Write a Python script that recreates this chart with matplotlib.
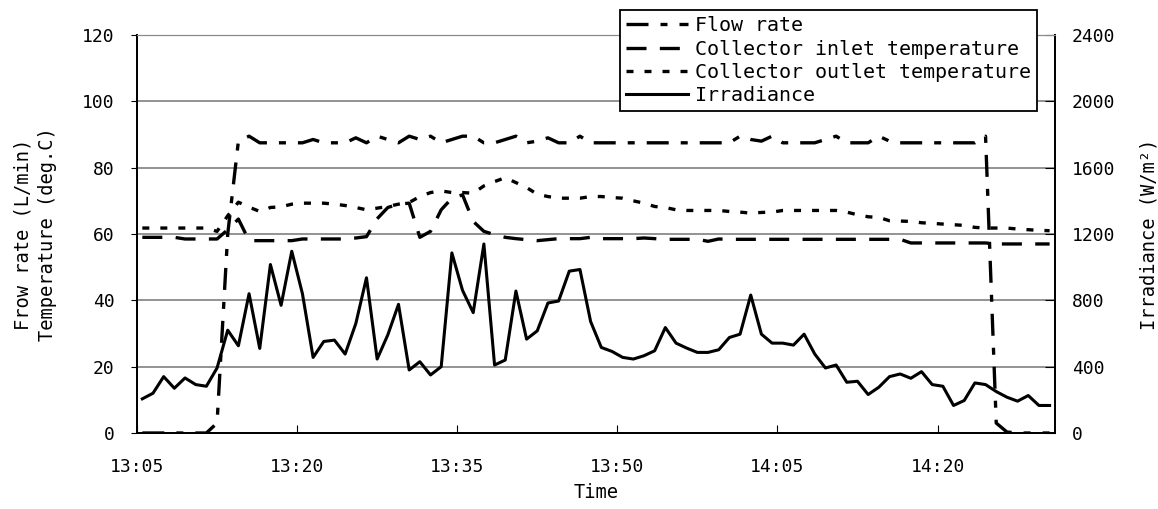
import numpy as np
import matplotlib
matplotlib.use('Agg')
import matplotlib.pyplot as plt

plt.rcParams['font.family'] = 'DejaVu Sans Mono'

# one sample per minute starting 13:05
minutes = np.arange(86) + 0.5
tick_pos = [0, 15, 30, 45, 60, 75]
tick_labels = ['13:05', '13:20', '13:35', '13:50', '14:05', '14:20']

flow_rate = [0, 0, 0, 0, 0, 0, 0, 3, 60, 88,
             89.5, 87.5, 87.5, 87.5, 87.5, 87.5, 88.5, 87.5, 87.5, 87.5,
             89, 87.5, 89.5, 88.5, 87.5, 89.5, 88.5, 89.5, 87.5, 88.5,
             89.5, 89.5, 87.5, 87.5, 88.5, 89.5, 87.5, 88, 89, 87.5,
             87.5, 89.5, 87.5, 87.5, 87.5, 87.5, 87.5, 87.5, 87.5, 87.5,
             87.5, 87.5, 87.5, 87.5, 87.5, 87.5, 89.5, 88.5, 88, 89.5,
             87.5, 87.5, 87.5, 87.5, 88.5, 89.5, 87.5, 87.5, 87.5, 89.5,
             88, 87.5, 87.5, 87.5, 87.5, 87.5, 87.5, 87.5, 87.5, 89.5,
             3, 0.3, 0, 0, 0, 0]

inlet_temp = [59, 59, 59, 59, 58.5, 58.5, 58.5, 58.5, 61.3, 64.5,
              58, 58, 58, 58, 58, 58.5, 58.5, 58.5, 58.5, 58.5,
              58.8, 59.2, 64.6, 68, 69, 69.3, 59, 60.8, 67.3, 70.8,
              71.8, 63.8, 60.8, 59.8, 59, 58.6, 58.3, 58, 58.3, 58.6,
              58.6, 58.6, 59, 58.6, 58.6, 58.6, 58.6, 58.8, 58.6, 58.4,
              58.4, 58.4, 58.4, 57.8, 58.5, 58.4, 58.4, 58.4, 58.4, 58.4,
              58.4, 58.4, 58.4, 58.4, 58.4, 58.4, 58.4, 58.4, 58.4, 58.4,
              58.4, 58.4, 57.3, 57.3, 57.3, 57.3, 57.3, 57.3, 57.3, 57.3,
              57, 57, 57, 57, 57, 57]

outlet_temp = [61.8, 61.8, 61.8, 61.8, 61.8, 61.8, 61.8, 60.8, 65.5, 69.6,
               68.1, 66.8, 68, 68.2, 69, 69.3, 69.3, 69.3, 69, 68.6,
               68, 67.3, 67.8, 68.3, 69, 69.5, 71.3, 72.5, 73, 72.5,
               72.5, 72.3, 74.5, 75.8, 77, 75.5, 74, 72, 71.3, 70.8,
               70.8, 70.8, 71.3, 71.3, 71, 70.8, 70, 69.3, 68.3, 68,
               67.3, 67.1, 67.1, 67.1, 67.1, 66.8, 66.6, 66.3, 66.5, 66.6,
               67.1, 67.1, 67.1, 67.1, 67.1, 67.1, 66.6, 65.8, 65.2, 65,
               64, 63.9, 63.8, 63.4, 63.2, 63, 62.8, 62.6, 62, 61.8,
               61.8, 61.8, 61.5, 61.3, 61.1, 61]

irradiance = [206, 240, 340, 270, 332, 292, 282, 392, 620, 526,
              840, 510, 1016, 770, 1096, 840, 456, 552, 560, 476,
              660, 936, 446, 592, 776, 380, 430, 350, 400, 1086,
              860, 726, 1140, 410, 440, 856, 566, 616, 784, 796,
              976, 986, 672, 516, 492, 456, 446, 466, 496, 636,
              542, 512, 486, 486, 502, 576, 596, 832, 596, 542,
              542, 530, 596, 476, 392, 410, 306, 312, 232, 276,
              340, 356, 330, 370, 292, 282, 166, 196, 302, 292,
              250, 216, 192, 226, 166, 166]

fig = plt.figure(figsize=(11.58, 5.09), dpi=100)
ax = fig.add_axes([0.1183, 0.1493, 0.7927, 0.7819])
ax2 = ax.twinx()

lf, = ax.plot(minutes, flow_rate, color='black', lw=2.4, dashes=(6.6, 3.6, 2.1, 3.6))
li, = ax.plot(minutes, inlet_temp, color='black', lw=2.4, dashes=(6, 4))
lo, = ax.plot(minutes, outlet_temp, color='black', lw=2.4, dashes=(2.1, 3.3))
lr, = ax2.plot(minutes, irradiance, color='black', lw=2.2)

ax.set_xlim(0, 86)
ax.set_ylim(0, 120)
ax2.set_ylim(0, 2400)
ax.set_yticks(range(0, 121, 20))
ax2.set_yticks(range(0, 2401, 400))
ax.set_xticks(tick_pos)
ax.set_xticklabels(tick_labels)

ax.yaxis.grid(True, color='#8a8a8a', lw=1.3)
ax.set_axisbelow(True)

ax.tick_params(axis='x', direction='in', length=6, pad=18, labelsize=13)
ax.tick_params(axis='y', direction='out', length=4, pad=12, labelsize=13)
ax2.tick_params(axis='y', direction='in', length=7, pad=12, labelsize=13)

for a in (ax, ax2):
    a.spines['top'].set_color('#8a8a8a')
    a.spines['left'].set_linewidth(1.3)
    a.spines['right'].set_linewidth(1.3)
    a.spines['bottom'].set_linewidth(1.3)

ax.set_xlabel('Time', fontsize=13.5)
ax.xaxis.set_label_coords(0.5, -0.125)
ax.set_ylabel('Frow rate (L/min)\nTemperature (deg.C)', fontsize=13.5, linespacing=1.4)
ax.yaxis.set_label_coords(-0.087, 0.5)
ax2.set_ylabel('Irradiance (W/m\u00b2)', fontsize=13.5)
ax2.yaxis.set_label_coords(1.092, 0.5)

leg = fig.legend([lf, li, lo, lr],
                 ['Flow rate', 'Collector inlet temperature',
                  'Collector outlet temperature', 'Irradiance'],
                 loc='upper right', bbox_to_anchor=(0.8955, 0.980),
                 fontsize=14.4, handlelength=3.1, handletextpad=0.35,
                 labelspacing=0.22, borderpad=0.3, borderaxespad=0,
                 fancybox=False, framealpha=1, edgecolor='black')
leg.get_frame().set_linewidth(1.3)

fig.savefig('out.png', dpi=100)
